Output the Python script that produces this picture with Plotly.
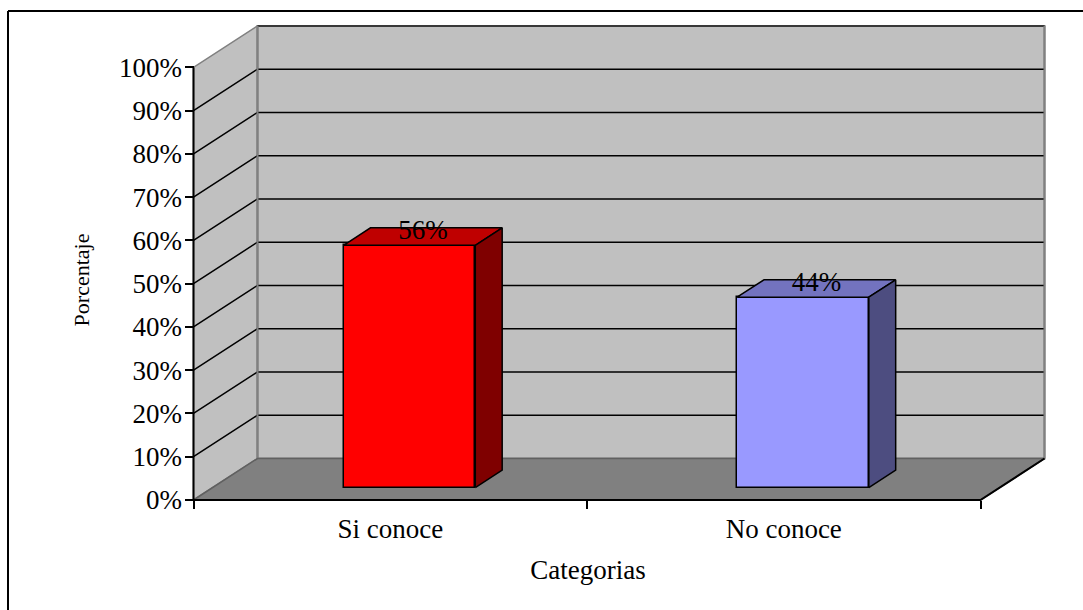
import plotly.graph_objects as go

categories = ["Si conoce", "No conoce"]
values = [56, 44]
value_labels = ["56%", "44%"]
y_ticks = [0, 10, 20, 30, 40, 50, 60, 70, 80, 90, 100]
front_colors = ["#FF0000", "#9999FF"]
top_colors = ["#BF0000", "#7373BF"]
side_colors = ["#7F0000", "#4D4D80"]

FONT = "Liberation Serif"
W, H = 1083, 610
AX_L, AX_R, AX_B = 193.5, 980.5, 500.0   # pixel position of the front axes
PL, PR, PT, PB = 129.0, 1047.0, 25.0, 535.0  # plotting window (holds the 3D projection)
PX_X = (AX_R - AX_L) / 2
PX_Y = 4.326
X0, X1 = -0.5, 1.5
RX0 = X0 - (AX_L - PL) / PX_X
RX1 = X0 + (PR - AX_L) / PX_X
RY0 = -(PB - AX_B) / PX_Y
RY1 = (AX_B - PT) / PX_Y
DX = 64 / PX_X
DY = 41.5 / PX_Y
D0, D1 = 0.30, 0.72
BAR_W = 131.7 / PX_X

fig = go.Figure()


def wall(xs, ys, fill, line, width=1.5, axes=("x", "y")):
    fig.add_trace(go.Scatter(x=xs, y=ys, mode="lines", fill="toself" if fill else None,
                             fillcolor=fill, line=dict(color=line, width=width),
                             xaxis=axes[0], yaxis=axes[1], cliponaxis=False,
                             hoverinfo="skip", showlegend=False))


top = y_ticks[-1]
# side wall, back wall
wall([X0, X0 + DX, X0 + DX, X0, X0], [0, DY, top + DY, top, 0], "#C0C0C0", "#808080")
wall([X0 + DX, X1 + DX, X1 + DX, X0 + DX, X0 + DX], [DY, DY, top + DY, top + DY, DY], "#C0C0C0", "#808080", 2)
# gridlines
for v in y_ticks[1:-1]:
    wall([X0, X0 + DX, X1 + DX], [v, v + DY, v + DY], None, "#000000", 1.5)
wall([X0 + DX, X1 + DX], [top + DY, top + DY], None, "#202020", 1.5)
# wall edges over the gridlines
wall([X0 + DX, X0 + DX], [DY, top + DY], None, "#808080", 2)
wall([X1 + DX, X1 + DX], [DY, top + DY], None, "#808080", 2)
# floor
wall([X0, X1, X1 + DX, X0 + DX, X0], [0, 0, DY, DY, 0], "#808080", "#606060")
# front edges and y axis line
wall([X1 + DX, X1, X0], [DY, 0, 0], None, "#000000", 2)
wall([X0, X0], [0, top], None, "#000000", 2)

# bars (overlay subplot, above the walls)
bar_x = [i + D0 * DX for i in range(len(categories))]
fig.add_trace(go.Bar(x=bar_x, y=values, base=[D0 * DY] * len(values), width=BAR_W,
                     marker=dict(color=front_colors, line=dict(color="#000000", width=1.5)),
                     xaxis="x2", yaxis="y2", cliponaxis=False, hoverinfo="skip", showlegend=False))
dd = D1 - D0
for i, v in enumerate(values):
    xl, xr = bar_x[i] - BAR_W / 2, bar_x[i] + BAR_W / 2
    yb, yt = D0 * DY, D0 * DY + v
    wall([xl, xr, xr + dd * DX, xl + dd * DX, xl], [yt, yt, yt + dd * DY, yt + dd * DY, yt],
         top_colors[i], "#000000", 1.5, ("x2", "y2"))
    wall([xr, xr + dd * DX, xr + dd * DX, xr, xr], [yb, yb + dd * DY, yt + dd * DY, yt, yb],
         side_colors[i], "#000000", 1.5, ("x2", "y2"))

fig.add_trace(go.Scatter(x=[x + dd * DX / 2 for x in bar_x], y=[v + D1 * DY - 1 for v in values],
                         mode="text", text=value_labels, textposition="middle center",
                         textfont=dict(family=FONT, size=27, color="#000000"),
                         xaxis="x2", yaxis="y2", cliponaxis=False, hoverinfo="skip", showlegend=False))

fig.update_layout(
    width=W, height=H, autosize=False,
    margin=dict(l=PL, r=W - PR, t=PT, b=H - PB, pad=0),
    paper_bgcolor="#FFFFFF", plot_bgcolor="rgba(0,0,0,0)",
    font=dict(family=FONT, size=27, color="#000000"),
    showlegend=False, bargap=0,
    xaxis=dict(range=[RX0, RX1], tickmode="array", tickvals=[0, 1], ticktext=categories,
               anchor="free", position=(PB - AX_B) / (PB - PT),
               ticks="outside", ticklen=0, showgrid=False, zeroline=False, showline=False,
               minor=dict(tickmode="array", tickvals=[-0.5, 0.5, 1.5], ticks="outside", ticklen=8,
                          tickcolor="#000000", tickwidth=2, showgrid=False),
               ticklabelstandoff=5,
               tickfont=dict(family=FONT, size=27),
               title=dict(text="Categorias", font=dict(family=FONT, size=27), standoff=16)),
    yaxis=dict(range=[RY0, RY1], tickmode="array", tickvals=y_ticks, ticktext=[f"{v}%" for v in y_ticks],
               anchor="free", position=(AX_L - PL) / (PR - PL),
               ticks="outside", ticklen=9, tickcolor="#000000", tickwidth=2, showgrid=False,
               zeroline=False, showline=False, tickfont=dict(family=FONT, size=27),
               ticklabelstandoff=-3,
               title=dict(text="Porcentaje", font=dict(family=FONT, size=22), standoff=22)),
    xaxis2=dict(range=[RX0, RX1], overlaying="x", visible=False, fixedrange=True),
    yaxis2=dict(range=[RY0, RY1], overlaying="y", visible=False, fixedrange=True),
    shapes=[dict(type="line", xref="paper", yref="paper",
                 x0=(8 - PL) / (PR - PL), x1=(W + 5 - PL) / (PR - PL),
                 y0=(PB - 11) / (PB - PT), y1=(PB - 11) / (PB - PT),
                 line=dict(color="#000000", width=2)),
            dict(type="line", xref="paper", yref="paper",
                 x0=(8 - PL) / (PR - PL), x1=(8 - PL) / (PR - PL),
                 y0=(PB - 11) / (PB - PT), y1=(PB - H - 5) / (PB - PT),
                 line=dict(color="#000000", width=2))],
)

fig.write_html("out.html", config=dict(displayModeBar=False, responsive=False),
               post_script="document.body.style.margin='0';document.body.style.overflow='hidden';")
